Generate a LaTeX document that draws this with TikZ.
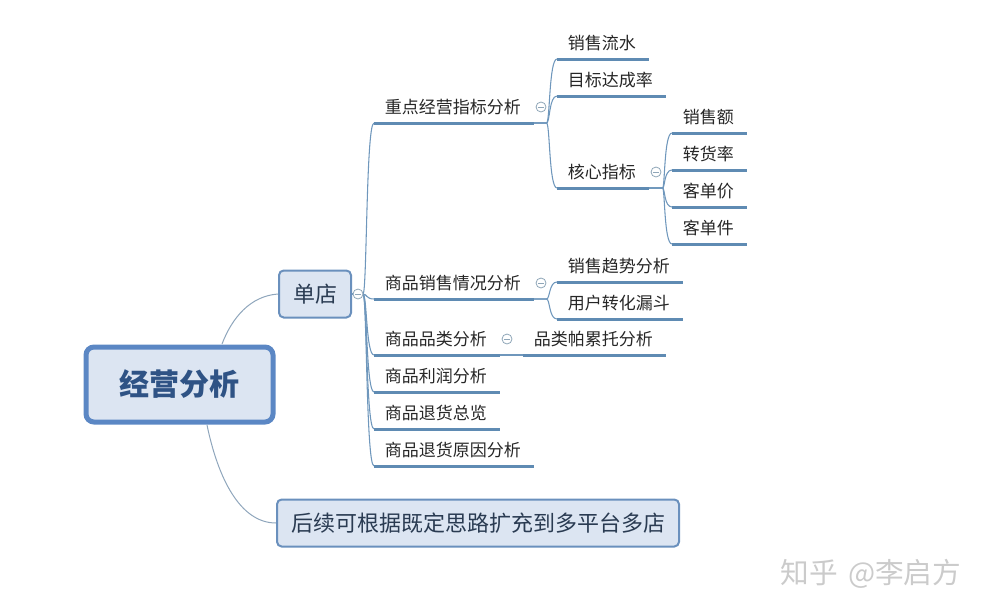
\documentclass[tikz,border=0pt]{standalone}
\usepackage{fontspec}
\setmainfont{Noto Sans CJK SC}
\definecolor{rootline}{HTML}{5B87C4}
\definecolor{subline}{HTML}{6A90BD}
\definecolor{boxfill}{HTML}{DCE5F2}
\definecolor{titleblue}{HTML}{2F5385}
\definecolor{subtext}{HTML}{2A3B52}
\definecolor{ulblue}{HTML}{5F8BB3}
\definecolor{connblue}{HTML}{6F97BC}
\definecolor{rootconncol}{HTML}{8FA6BC}
\definecolor{colgray}{HTML}{8FA6B8}
\definecolor{markgray}{HTML}{CBCBCB}
\tikzset{
  rootbox/.style={draw=rootline,line width=3.75pt,fill=boxfill,rounded corners=6pt,minimum width=140.25pt,minimum height=56.25pt,inner sep=0pt,text=titleblue,font=\fontsize{22.5pt}{24pt}\selectfont\bfseries},
  subbox/.style={draw=subline,line width=1.5pt,fill=boxfill,rounded corners=3.5pt,minimum height=35.25pt,inner sep=0pt,text=subtext,font=\fontsize{16.5pt}{18pt}\selectfont},
  topic/.style={anchor=south west,inner sep=0pt,text width={#1*0.75pt},minimum height=23.4pt,text=black!85,align=left,font=\fontsize{12.75pt}{14pt}\selectfont,execute at begin node=\hspace*{7.9pt}},
  ul/.style={draw=ulblue,line width=2.25pt},
  conn/.style={draw=connblue,line width=0.8pt},
  rootconn/.style={draw=rootconncol,line width=0.75pt},
  collapse/.style={circle,draw=colgray,line width=0.6pt,fill=white,minimum size=7.5pt,inner sep=0pt,path picture={\draw[colgray,line width=0.6pt] ([xshift=-2pt]path picture bounding box.center) -- ([xshift=2pt]path picture bounding box.center);}},
}
\begin{document}
\begin{tikzpicture}[x=0.75pt,y=-0.75pt]
\useasboundingbox (0,0) rectangle (988,614);
% boxes
\node[rootbox] (root) at (179.5,384.5) {\hspace{0.4pt}\raisebox{-1.8pt}{经营分析}};
\node[subbox,minimum width=54pt] (shop) at (315,294) {\raisebox{-0.8pt}{单店}\hspace{1pt}};
\node[subbox,minimum width=301.5pt] (later) at (478,523) {\raisebox{-0.4pt}{后续可根据既定思路扩充到多平台多店}\hspace{1pt}};
% topics
\node[topic=159] (a) at (374,123) {重点经营指标分析};
\node[topic=91] (a1) at (557,59) {销售流水};
\node[topic=108] (a2) at (557,96) {目标达成率};
\node[topic=91] (a3) at (557,188) {核心指标};
\node[topic=74] (k1) at (672,133) {销售额};
\node[topic=74] (k2) at (672,170) {转货率};
\node[topic=74] (k3) at (672,207) {客单价};
\node[topic=74] (k4) at (672,244) {客单件};
\node[topic=159] (b) at (374,299) {商品销售情况分析};
\node[topic=125] (b1) at (557,282) {销售趋势分析};
\node[topic=125] (b2) at (557,319) {用户转化漏斗};
\node[topic=125] (c) at (374,355) {商品品类分析};
\node[topic=142] (c1) at (523,355) {品类帕累托分析};
\node[topic=125] (d) at (374,392) {商品利润分析};
\node[topic=125] (e) at (374,429) {商品退货总览};
\node[topic=159] (f) at (374,466) {商品退货原因分析};
% connectors
\coordinate (rootUp) at (222,344);
\coordinate (rootDown) at (207,425);
\draw[rootconn] (rootUp) .. controls (232,318) and (250,296) .. (shop.west);
\draw[rootconn] (rootDown) .. controls (218,478) and (240,523) .. (later.west);
\foreach \t in {a,b,c,d,e,f}{
  \draw[conn] (shop.east) -- (363,294) .. controls (367,294) and (366,0 |- \t.south west) .. (\t.south west);
}
\foreach \t in {a1,a2,a3}{
  \draw[conn] (a.south east) -- ++(13,0) .. controls (550,123) and (549,0 |- \t.south west) .. (\t.south west);
}
\foreach \t in {k1,k2,k3,k4}{
  \draw[conn] (a3.south east) -- ++(14,0) .. controls (665,188) and (664,0 |- \t.south west) .. (\t.south west);
}
\foreach \t in {b1,b2}{
  \draw[conn] (b.south east) -- ++(13,0) .. controls (550,299) and (549,0 |- \t.south west) .. (\t.south west);
}
\draw[conn] (c.south east) -- (c1.south west);
% underlines
\foreach \t in {a,a1,a2,a3,k1,k2,k3,k4,b,b1,b2,c,c1,d,e,f}{
  \draw[ul] (\t.south west) -- (\t.south east);
}
% collapse marks
\node[collapse] (m0) at (358,294) {};
\node[collapse] (m1) at (541,107) {};
\node[collapse] (m2) at (656,172) {};
\node[collapse] (m3) at (541,283) {};
\node[collapse] (m4) at (507,339) {};
% watermark
\node[text=markgray,font=\fontsize{21.5pt}{23pt}\selectfont,inner sep=0pt] (zh) at (871,574) {知乎\hspace{0.35em}@李启方};
\end{tikzpicture}
\end{document}
